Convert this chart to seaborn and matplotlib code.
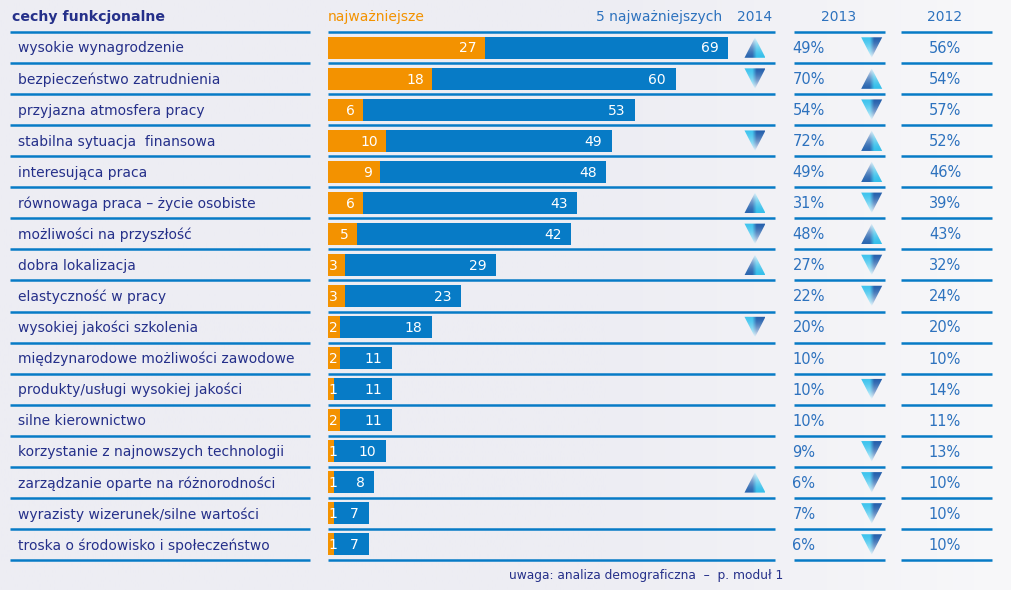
import numpy as np
import pandas as pd
import matplotlib
matplotlib.use("Agg")
import matplotlib.pyplot as plt
import seaborn as sns
from matplotlib.patches import Polygon
from matplotlib.colors import to_rgb

# ---------------- data ----------------
categories = [
    "wysokie wynagrodzenie",
    "bezpieczeństwo zatrudnienia",
    "przyjazna atmosfera pracy",
    "stabilna sytuacja  finansowa",
    "interesująca praca",
    "równowaga praca – życie osobiste",
    "możliwości na przyszłość",
    "dobra lokalizacja",
    "elastyczność w pracy",
    "wysokiej jakości szkolenia",
    "międzynarodowe możliwości zawodowe",
    "produkty/usługi wysokiej jakości",
    "silne kierownictwo",
    "korzystanie z najnowszych technologii",
    "zarządzanie oparte na różnorodności",
    "wyrazisty wizerunek/silne wartości",
    "troska o środowisko i społeczeństwo",
]
top1_2014 = [27, 18, 6, 10, 9, 6, 5, 3, 3, 2, 2, 1, 2, 1, 1, 1, 1]
top5_2014 = [69, 60, 53, 49, 48, 43, 42, 29, 23, 18, 11, 11, 11, 10, 8, 7, 7]
pct_2013 = [49, 70, 54, 72, 49, 31, 48, 27, 22, 20, 10, 10, 10, 9, 6, 7, 6]
pct_2012 = [56, 54, 57, 52, 46, 39, 43, 32, 24, 20, 10, 14, 11, 13, 10, 10, 10]
# trend arrows: 1 = up, -1 = down, 0 = none
trend_2014 = [1, -1, 0, -1, 0, 1, -1, 1, 0, -1, 0, 0, 0, 0, 1, 0, 0]
trend_2013 = [-1, 1, -1, 1, 1, -1, 1, -1, -1, 0, 0, -1, 0, -1, -1, -1, -1]

header_title = "cechy funkcjonalne"
header_top1 = "najważniejsze"
header_top5 = "5 najważniejszych"
years = ["2014", "2013", "2012"]
footnote = "uwaga: analiza demograficzna  –  p. moduł 1"

# ---------------- style ----------------
BLUE = "#077BC6"
ORANGE = "#F39200"
NAVY = "#25308A"
TXTBLUE = "#2D72BE"
BG = "#EDEDF3"
FONT = "DejaVu Sans"

W, H = 1012, 590
fig = plt.figure(figsize=(W / 100, H / 100), dpi=100)
fig.patch.set_facecolor(BG)

# background: subtle horizontal gradient towards white at the right
bg_ax = fig.add_axes([0, 0, 1, 1], zorder=-10)
c0 = np.array(to_rgb(BG))
c1 = np.array(to_rgb("#F8F8FA"))
t = np.clip((np.linspace(0, 1, 400) - 0.6) / 0.4, 0, 1)[None, :, None]
grad = c0 * (1 - t) + c1 * t
bg_ax.imshow(grad, aspect="auto", extent=[0, 1, 0, 1])
bg_ax.axis("off")

n = len(categories)
TOP, BOT = 32, 560


def col_axes(x0, x1):
    ax = fig.add_axes([x0 / W, (H - BOT) / H, (x1 - x0) / W, (BOT - TOP) / H])
    ax.set_facecolor("none")
    ax.axis("off")
    return ax


def row_lines(ax, x0, x1):
    for k in range(n + 1):
        ax.plot([x0, x1], [k - 0.5, k - 0.5], color=BLUE, lw=1.8,
                solid_capstyle="butt", clip_on=False, zorder=1)


def triangle(ax, xc, yc, up, w, h):
    if up > 0:
        verts = [(xc - w, yc + h), (xc + w, yc + h), (xc, yc - h)]
        left, right = np.array(to_rgb("#2A66B0")), np.array(to_rgb("#35BFEA"))
    else:
        verts = [(xc - w, yc - h), (xc + w, yc - h), (xc, yc + h)]
        left, right = np.array(to_rgb("#3FC4EE")), np.array(to_rgb("#2560AC"))
    nx, ny = 60, 60
    sx = np.linspace(0, 1, nx)[None, :, None]
    sx = np.clip((sx - 0.4) / 0.2, 0, 1)
    base = left * (1 - sx) + right * sx
    sy = np.linspace(0, 1, ny)[:, None, None]  # 0 = visual top
    fade = (1 - sy) if up > 0 else sy  # amount of white
    fade = fade ** 1.6 * 0.9
    img = base * (1 - fade) + np.ones(3) * fade
    img = np.broadcast_to(img, (ny, nx, 3))
    poly = Polygon(verts, closed=True, facecolor="none", edgecolor="none",
                   transform=ax.transData)
    ax.add_patch(poly)
    im = ax.imshow(img, extent=[xc - w, xc + w, yc + h, yc - h],
                   aspect="auto", interpolation="bilinear", zorder=4)
    im.set_clip_path(poly)


YLIM = (n - 0.5, -0.5)

# ---------------- label column ----------------
ax_lab = col_axes(10, 310)
ax_lab.set_xlim(0, 300)
ax_lab.set_ylim(*YLIM)
row_lines(ax_lab, 0, 300)
for i, c in enumerate(categories):
    ax_lab.text(8, i + 0.03, c, ha="left", va="center", color=NAVY,
                fontsize=10, family=FONT)
ax_lab.text(2, -0.98, header_title, ha="left", va="center", color=NAVY,
            fontsize=10.2, fontweight="bold", family=FONT)

# ---------------- bar column ----------------
PX_PER_UNIT = 400 / 69
BX0, BX1 = 328, 775
ax_bar = col_axes(BX0, BX1)
df = pd.DataFrame({"cat": categories, "top1": top1_2014, "top5": top5_2014})
sns.barplot(data=df, x="top5", y="cat", orient="h", color=BLUE,
            saturation=1, width=0.71, ax=ax_bar, order=categories)
sns.barplot(data=df, x="top1", y="cat", orient="h", color=ORANGE,
            saturation=1, width=0.71, ax=ax_bar, order=categories)
for p in ax_bar.patches:
    p.set_linewidth(0)
xmax = (BX1 - BX0) / PX_PER_UNIT
ax_bar.set_xlim(0, xmax)
ax_bar.set_ylim(*YLIM)
ax_bar.axis("off")
row_lines(ax_bar, 0, xmax)

for i in range(n):
    ax_bar.annotate(str(top5_2014[i]), (top5_2014[i], i + 0.03), xytext=(-7, 0),
                    textcoords="offset points", ha="right", va="center",
                    color="white", fontsize=10, family=FONT)
    o = top1_2014[i]
    if o >= 5:
        ax_bar.annotate(str(o), (o, i + 0.03), xytext=(-6, 0),
                        textcoords="offset points", ha="right", va="center",
                        color="white", fontsize=10, family=FONT)
    else:
        ax_bar.annotate(str(o), (0, i + 0.03), xytext=(0.5, 0),
                        textcoords="offset points", ha="left", va="center",
                        color="white", fontsize=10, family=FONT)

tri_x14 = (755 - BX0) / PX_PER_UNIT
for i, tr in enumerate(trend_2014):
    if tr:
        triangle(ax_bar, tri_x14, i, tr, 10.5 / PX_PER_UNIT, 0.33)
ax_bar.set_xlim(0, xmax)
ax_bar.set_ylim(*YLIM)

ax_bar.text(0, -0.98, header_top1, ha="left", va="center", color=ORANGE,
            fontsize=10, family=FONT)
ax_bar.text((722 - BX0) / PX_PER_UNIT, -0.98, header_top5, ha="right",
            va="center", color=TXTBLUE, fontsize=10, family=FONT)
ax_bar.text(tri_x14, -0.98, years[0], ha="center", va="center",
            color=TXTBLUE, fontsize=10, family=FONT)

# ---------------- 2013 column ----------------
ax13 = col_axes(794, 885)
ax13.set_xlim(0, 91)
ax13.set_ylim(*YLIM)
row_lines(ax13, 0, 91)
for i, v in enumerate(pct_2013):
    ax13.text(-1.5, i + 0.03, f"{v}%", ha="left", va="center", color=TXTBLUE,
              fontsize=10.5, family=FONT)
for i, tr in enumerate(trend_2013):
    if tr:
        triangle(ax13, 77.7, i, tr, 10.5, 0.33)
ax13.set_xlim(0, 91)
ax13.set_ylim(*YLIM)
ax13.text(45, -0.98, years[1], ha="center", va="center", color=TXTBLUE,
          fontsize=10, family=FONT)

# ---------------- 2012 column ----------------
ax12 = col_axes(901, 992)
ax12.set_xlim(0, 91)
ax12.set_ylim(*YLIM)
row_lines(ax12, 0, 91)
for i, v in enumerate(pct_2012):
    ax12.text(44, i + 0.03, f"{v}%", ha="center", va="center", color=TXTBLUE,
              fontsize=10.5, family=FONT)
ax12.text(44, -0.98, years[2], ha="center", va="center", color=TXTBLUE,
          fontsize=10, family=FONT)

fig.text(783 / W, 1 - 575 / H, footnote, ha="right", va="center",
         color=NAVY, fontsize=8.8, family=FONT)

fig.savefig("out.png", dpi=100, facecolor=fig.get_facecolor())
